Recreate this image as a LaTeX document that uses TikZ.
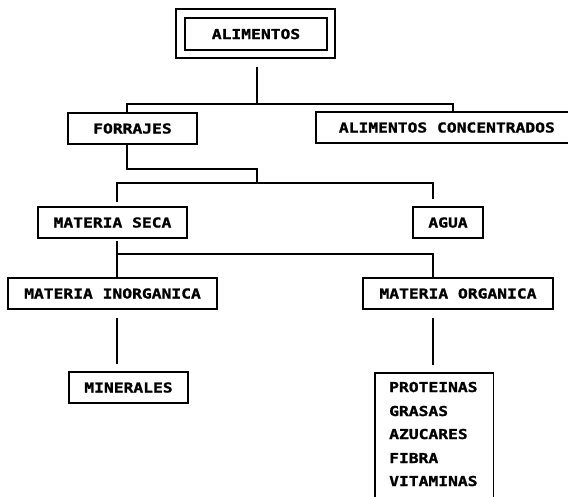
\documentclass[tikz,border=0pt]{standalone}
\usepackage{fontspec}
\setmainfont{DejaVu Sans Mono}[FakeStretch=1.19, BoldFeatures={FakeBold=1.2}]
\begin{document}
\begin{tikzpicture}[x=1pt,y=-1pt,
  every node/.style={font=\fontsize{13.7}{16}\selectfont\bfseries, text height=10pt, text depth=0pt},
  box/.style={draw, line width=1.8pt, inner sep=0pt, minimum height=31pt},
  conn/.style={line width=1.8pt},
  item/.style={anchor=west, inner sep=0pt}]
\useasboundingbox (0,0) rectangle (568,496);
\clip (0,0) rectangle (568,496);
\fill[white] (0,0) rectangle (568,496);
% nodes
\node[box, minimum width=159pt, minimum height=49pt] (alimout) at (255.5,33.5) {};
\node[box, minimum width=142pt, minimum height=32pt] (alim) at (256,34) {ALIMENTOS};
\node[box, minimum width=129pt] (forr) at (132.5,128.5) {FORRAJES};
\node[box, anchor=west, inner xsep=23pt] (aconc) at (315,127.5) {ALIMENTOS CONCENTRADOS};
\node[box, minimum width=149pt] (ms) at (112.5,222.5) {MATERIA SECA};
\node[box, minimum width=70pt] (agua) at (448,222.5) {AGUA};
\node[box, minimum width=209pt] (minorg) at (112.5,293.5) {MATERIA INORGANICA};
\node[box, minimum width=190pt] (morg) at (458,293.5) {MATERIA ORGANICA};
\node[box, minimum width=119pt] (miner) at (128.5,387.5) {MINERALES};
\node[inner sep=0pt, minimum width=118pt, minimum height=130pt, anchor=north west] (list) at (375,373) {};
\draw[conn] (list.south west) -- (list.north west) -- (list.north east) -- (list.south east);
\node[item] (p1) at (389,387) {PROTEINAS};
\node[item] (p2) at (389,411) {GRASAS};
\node[item] (p3) at (389,434) {AZUCARES};
\node[item] (p4) at (389,458) {FIBRA};
\node[item] (p5) at (389,481) {VITAMINAS};
% coordinates
\coordinate (t0) at (257,104);
\coordinate (t1) at (127,104);
\coordinate (t2) at (453,104);
\coordinate (h0) at (257,183);
\coordinate (h1) at (117,183);
\coordinate (h2) at (433,183);
\coordinate (k1) at (117,254);
\coordinate (k2) at (433,254);
% connectors
\draw[conn] ([yshift=-8pt]alimout.south -| t0) -- (t0);
\draw[conn] (forr.north -| t1) -- (t1) -- (t2) -- (aconc.north -| t2);
\draw[conn] (forr.south -| t1) -- ++(0,24) -| (h0);
\draw[conn] ([yshift=4pt]ms.north -| h1) -- (h1) -- (h2) -- ([yshift=7pt]agua.north -| h2);
\draw[conn] ([yshift=-2pt]ms.south -| h1) -- (minorg.north -| h1);
\draw[conn] (k1) -- (k2) -- (morg.north -| k2);
\draw[conn] ([yshift=-8pt]minorg.south -| h1) -- ([yshift=7pt]miner.north -| h1);
\draw[conn] ([yshift=-8pt]morg.south -| h2) -- ([yshift=8pt]list.north -| h2);
\end{tikzpicture}
\end{document}
